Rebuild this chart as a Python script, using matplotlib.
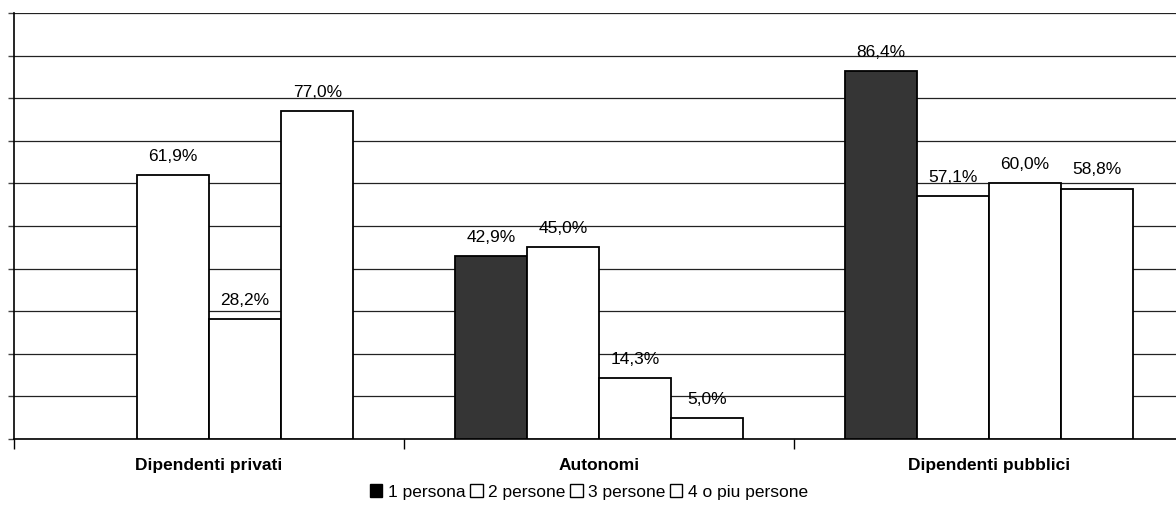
import numpy as np
import matplotlib
matplotlib.use("Agg")
import matplotlib.pyplot as plt
from matplotlib.patches import Patch

categories = ["Dipendenti privati", "Autonomi", "Dipendenti pubblici"]
series_names = ["1 persona", "2 persone", "3 persone", "4 o piu persone"]
s1 = [np.nan, 42.9, 86.4]
s2 = [61.9, 45.0, 57.1]
s3 = [28.2, 14.3, 60.0]
s4 = [77.0, 5.0, 58.8]
series_values = [s1, s2, s3, s4]
face_colors = ["#353535", "white", "white", "white"]

plt.rcParams['font.family'] = ['Liberation Sans', 'DejaVu Sans']

W, H = 1176, 517
fig = plt.figure(figsize=(W / 100, H / 100), dpi=100)
ax = fig.add_axes([14 / W, 78 / H, 1170 / W, 426 / H])

x = np.arange(len(categories))
bw = 0.185
offsets = (np.arange(4) - 1.5) * bw
for vals, off, fc in zip(series_values, offsets, face_colors):
    v = np.array(vals, dtype=float)
    bars = ax.bar(x + off, np.nan_to_num(v), bw, facecolor=fc, edgecolor="black",
                  linewidth=1.3, zorder=3)
    for xi, vi in zip(x + off, v):
        if np.isnan(vi):
            continue
        ax.annotate(f"{vi:.1f}%".replace(".", ","), (xi, vi), xytext=(0, 8),
                    textcoords="offset points", ha="center", va="bottom",
                    fontsize=12.5, zorder=4)
    for b, vi in zip(bars, v):
        if np.isnan(vi):
            b.set_visible(False)

ax.set_xlim(-0.5, 2.5)
ax.set_ylim(0, 100)
ax.set_yticks(np.arange(0, 101, 10))
ax.set_yticklabels([])
ax.yaxis.grid(True, color="#222222", linewidth=0.9, zorder=0)
ax.tick_params(axis="y", length=4, width=1, direction="out", color="#444444")

ax.set_xticks(x)
ax.set_xticklabels(categories, fontsize=12.5, fontweight="bold")
ax.set_xticks([-0.5, 0.5, 1.5], minor=True)
ax.tick_params(axis="x", which="major", length=0, pad=14)
ax.tick_params(axis="x", which="minor", length=7, width=1, direction="out")

for s in ["top", "right"]:
    ax.spines[s].set_visible(False)
ax.spines["left"].set_linewidth(1.2)
ax.spines["bottom"].set_linewidth(1.2)

handles = [Patch(facecolor=fc, edgecolor="black", linewidth=1) for fc in face_colors]
handles[0] = Patch(facecolor="black", edgecolor="black", linewidth=1)
fig.legend(handles, series_names, loc="center", bbox_to_anchor=(589 / W, 1 - 492 / H),
           ncol=4, frameon=False, fontsize=12.5, handlelength=0.7, handleheight=0.7,
           handletextpad=0.3, columnspacing=0.3, borderpad=0)

fig.savefig("out.png", dpi=100)
